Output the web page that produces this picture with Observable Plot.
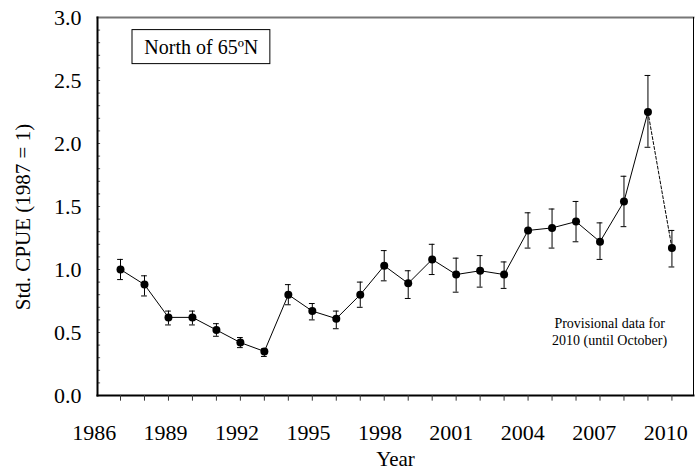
<!DOCTYPE html>
<html><head><meta charset="utf-8">
<script src="https://cdn.jsdelivr.net/npm/d3@7"></script>
<script src="https://cdn.jsdelivr.net/npm/@observablehq/plot@0.6"></script>
<style>body{margin:0;background:#fff}</style>
</head><body><div id="chart"></div>
<script>
const years = d3.range(1987, 2011);
const cpue  = [1.00,0.88,0.62,0.62,0.52,0.42,0.35,0.80,0.67,0.61,0.80,1.03,0.89,1.08,0.96,0.99,0.96,1.31,1.33,1.38,1.22,1.54,2.25,1.17];
const lower = [0.92,0.79,0.56,0.56,0.47,0.38,0.31,0.72,0.60,0.53,0.70,0.91,0.77,0.96,0.82,0.86,0.85,1.17,1.17,1.22,1.08,1.34,1.97,1.02];
const upper = [1.08,0.95,0.67,0.67,0.57,0.46,0.37,0.88,0.73,0.67,0.90,1.15,0.99,1.20,1.09,1.11,1.06,1.45,1.48,1.54,1.37,1.74,2.54,1.31];
const tickLabels = ["1986","1989","1992","1995","1998","2001","2004","2007","2010"];

const data = years.map((y, i) => ({year: y, v: cpue[i], lo: lower[i], hi: upper[i]}));
const solid = data.filter(d => d.year <= 2009);
const dashed = data.filter(d => d.year >= 2009);
const caps = data.flatMap(d => [{x: d.year, y: d.lo}, {x: d.year, y: d.hi}]);
const labelPos = tickLabels.map((t, i) => ({x: 1985.9 + i * 2.98, t}));
const minor = d3.range(0, 31).map(i => i / 10);
const font = "Liberation Serif, Times New Roman, serif";
const x0 = 1986.04;

const chart = Plot.plot({
  width: 695, height: 472,
  marginLeft: 97, marginRight: 2, marginTop: 17, marginBottom: 77,
  style: {fontFamily: font, fontSize: "22px", color: "#000", background: "#fff"},
  x: {domain: [x0, 2010.9], axis: null},
  y: {domain: [0, 3], ticks: [0, 0.5, 1, 1.5, 2, 2.5, 3], tickFormat: d => d.toFixed(1), tickSize: 0, tickPadding: 16, label: null},
  marks: [
    Plot.ruleY(minor, {y: d => d, x1: x0, x2: x0 + 0.13, stroke: "#555"}),
    Plot.frame({anchor: "top", stroke: "#777", strokeWidth: 2}),
    Plot.frame({anchor: "right", stroke: "#000"}),
    Plot.frame({anchor: "left", stroke: "#000", strokeWidth: 2}),
    Plot.frame({anchor: "bottom", stroke: "#000", strokeWidth: 2}),
    Plot.ruleX(years, {x: d => d, y1: 0, y2: -0.045, stroke: "#333"}),
    Plot.text(labelPos, {x: "x", y: 0, text: "t", dy: 37, fontSize: 22}),
    Plot.text(["Year"], {frameAnchor: "bottom", dy: 70, fontSize: 21}),
    Plot.ruleX(data, {x: "year", y1: "lo", y2: "hi", stroke: "#000"}),
    Plot.ruleY(caps, {y: "y", x1: d => d.x - 0.12, x2: d => d.x + 0.12, stroke: "#000"}),
    Plot.line(solid, {x: "year", y: "v", stroke: "#000", strokeWidth: 1}),
    Plot.line(dashed, {x: "year", y: "v", stroke: "#000", strokeWidth: 1, strokeDasharray: "3,2"}),
    Plot.dot(data, {x: "year", y: "v", r: 4, fill: "#000"}),
    Plot.rect([{x1: 1987.5, x2: 1993.25, y1: 2.63, y2: 2.9}], {x1: "x1", x2: "x2", y1: "y1", y2: "y2", fill: "#fff", stroke: "#000"}),
    Plot.text(["North of 65ºN"], {x: 1990.37, y: 2.765, fontSize: 20}),
    Plot.text(["Provisional data for\n2010 (until October)"], {x: 2007.4, y: 0.51, fontSize: 14, lineHeight: 1.2})
  ]
});
d3.select(chart).append("text").attr("transform", "translate(25,217) rotate(-90)")
  .attr("text-anchor", "middle").attr("dominant-baseline", "middle").attr("font-size", 21).attr("fill", "#000").text("Std. CPUE (1987 = 1)");
document.getElementById("chart").append(chart);
</script>
</body></html>
